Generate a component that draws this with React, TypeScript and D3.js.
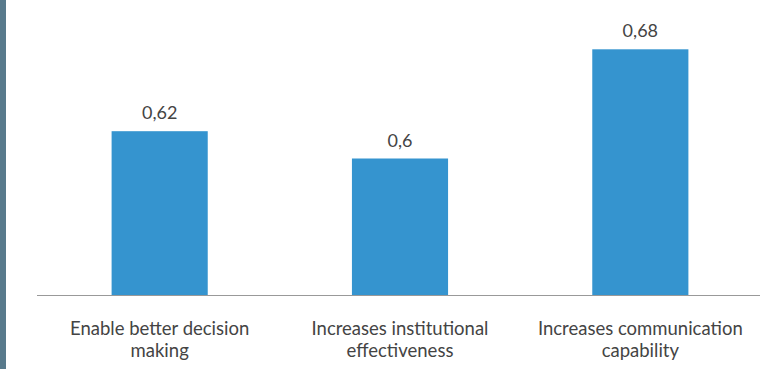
import React from "react";
import * as d3 from "d3";

const categories: string[][] = [
  ["Enable better decision", "making"],
  ["Increases institutional", "effectiveness"],
  ["Increases communication", "capability"],
];
const values: number[] = [0.62, 0.6, 0.68];
const valueLabels: string[] = ["0,62", "0,6", "0,68"];

const W = 784;
const H = 369;

export default function App() {
  const x = d3
    .scaleBand<number>()
    .domain(values.map((_, i) => i))
    .range([39.5, 760.5])
    .paddingInner(0.6)
    .paddingOuter(0.3);
  const y = d3.scaleLinear().domain([0.5, 0.7]).range([295, 22]);
  const font = "Lato, 'Open Sans', sans-serif";
  return (
    <svg
      width={W}
      height={H}
      style={{ position: "absolute", left: 0, top: 0, background: "#fff" }}
    >
      <rect x={0} y={0} width={6} height={H} fill="#587a8c" />
      {values.map((v, i) => (
        <g key={i}>
          <rect
            x={x(i)}
            y={y(v)}
            width={x.bandwidth()}
            height={y(0.5) - y(v)}
            fill="#3594cf"
          />
          <text
            x={(x(i) as number) + x.bandwidth() / 2}
            y={y(v) - 12}
            textAnchor="middle"
            fontFamily={font}
            fontSize={18}
            fill="#444"
          >
            {valueLabels[i]}
          </text>
          {categories[i].map((line, j) => (
            <text
              key={j}
              x={(x(i) as number) + x.bandwidth() / 2}
              y={335 + j * 22}
              textAnchor="middle"
              fontFamily={font}
              fontSize={18.5}
              fill="#444"
            >
              {line}
            </text>
          ))}
        </g>
      ))}
      <line x1={37} x2={760} y1={295.5} y2={295.5} stroke="#999" strokeWidth={1} />
    </svg>
  );
}
